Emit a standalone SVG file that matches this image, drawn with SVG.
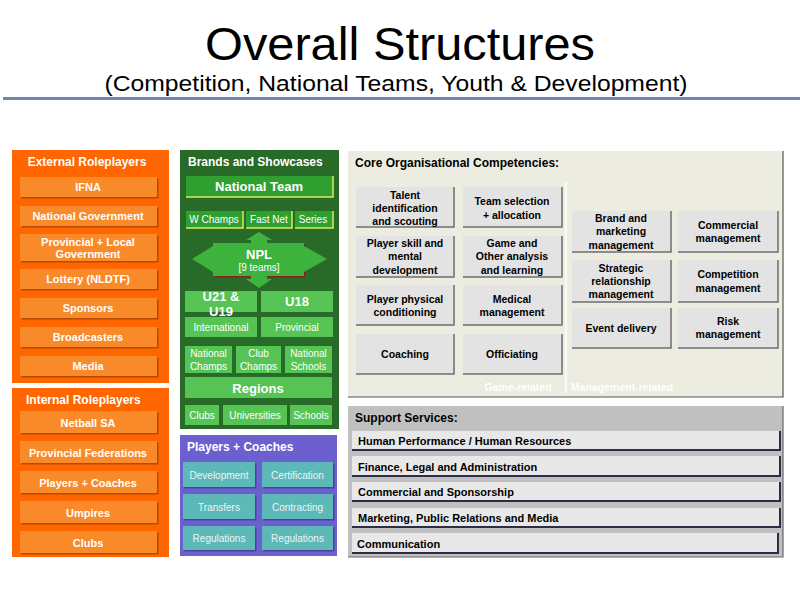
<svg xmlns="http://www.w3.org/2000/svg" width="800" height="600" viewBox="0 0 800 600">
<defs>
<style>
text{font-family:"Liberation Sans",Arial,sans-serif}
.t{fill:#fff;font-weight:bold;font-size:11px;text-anchor:middle}
.h{fill:#fff;font-weight:bold;font-size:12px}
.ob{fill:#F98A2C;filter:url(#sho)}
.gb{fill:#2FA02F}
.gl{fill:#55C455}
.yl{fill:none;stroke:#E2E85A;stroke-width:1.5}
.gt{fill:#fff;font-size:10px;text-anchor:middle}
.gtb{fill:#fff;font-size:13px;font-weight:bold;text-anchor:middle}
.tb{fill:#5DB8B8;filter:url(#shp)}
.tt{fill:#EAF6F6;font-size:10px;text-anchor:middle}
.cb{fill:#E3E3E3}
.ce{fill:none;stroke:#6E6E6E;stroke-width:1.5}
.ct{fill:#000;font-weight:bold;font-size:10.5px;text-anchor:middle}
.sb{fill:#E8E8E8}
.se{fill:none;stroke:#2C2C46;stroke-width:2}
.st{fill:#000;font-weight:bold;font-size:11px}
</style>
<filter id="sho" x="-10%" y="-20%" width="130%" height="150%"><feDropShadow dx="1.5" dy="1.5" stdDeviation="0.4" flood-color="#B84A00"/></filter>
<filter id="shp" x="-10%" y="-20%" width="130%" height="150%"><feDropShadow dx="1.5" dy="1.5" stdDeviation="0.4" flood-color="#4A3FA0"/></filter>
</defs>
<rect width="800" height="600" fill="#fff"/>

<g id="title">
<text x="400" y="60" font-size="46" text-anchor="middle" textLength="390" lengthAdjust="spacingAndGlyphs" fill="#000">Overall Structures</text>
<text x="396" y="91" font-size="22.5" text-anchor="middle" textLength="583" lengthAdjust="spacingAndGlyphs" fill="#000">(Competition, National Teams, Youth &amp; Development)</text>
<line x1="3" y1="98.5" x2="800" y2="98.5" stroke="#6A88B0" stroke-width="3"/>
</g>

<g id="external">
<rect x="12" y="150" width="157" height="233" fill="#FF6600"/>
<text class="h" x="87" y="166" text-anchor="middle" font-size="11.5">External Roleplayers</text>
<rect class="ob" x="20" y="177" width="137" height="20"/><text class="t" x="88" y="191">IFNA</text>
<rect class="ob" x="20" y="206" width="137" height="20"/><text class="t" x="88" y="220">National Government</text>
<rect class="ob" x="20" y="234" width="137" height="27"/><text class="t" x="88" y="245.5">Provincial + Local</text><text class="t" x="88" y="258">Government</text>
<rect class="ob" x="20" y="269" width="137" height="20"/><text class="t" x="88" y="283">Lottery (NLDTF)</text>
<rect class="ob" x="20" y="298" width="137" height="20"/><text class="t" x="88" y="312">Sponsors</text>
<rect class="ob" x="20" y="327" width="137" height="20"/><text class="t" x="88" y="341">Broadcasters</text>
<rect class="ob" x="20" y="356" width="137" height="20"/><text class="t" x="88" y="370">Media</text>
</g>

<g id="internal">
<rect x="12" y="388" width="157" height="169" fill="#FF6600"/>
<text class="h" x="26" y="404" font-size="11.5">Internal Roleplayers</text>
<rect class="ob" x="20" y="411" width="137" height="22"/><text class="t" x="88" y="426.5">Netball SA</text>
<rect class="ob" x="20" y="441" width="137" height="22"/><text class="t" x="88" y="456.5">Provincial Federations</text>
<rect class="ob" x="20" y="471" width="137" height="22"/><text class="t" x="88" y="486.5">Players + Coaches</text>
<rect class="ob" x="20" y="501" width="137" height="22"/><text class="t" x="88" y="516.5">Umpires</text>
<rect class="ob" x="20" y="531" width="137" height="22"/><text class="t" x="88" y="546.5">Clubs</text>
</g>

<g id="brands">
<rect x="180" y="150" width="159" height="279" fill="#286A28"/>
<text class="h" x="188" y="166">Brands and Showcases</text>
<rect class="gb" x="186" y="176" width="147" height="21"/><polyline class="yl" points="186,197 333,197 333,176"/>
<text class="gtb" x="259" y="191" font-size="12">National Team</text>
<rect class="gb" x="186" y="211" width="57" height="17"/><polyline class="yl" points="186,228 243,228 243,211"/>
<text class="gt" x="214" y="222.5" font-size="9.5">W Champs</text>
<rect class="gb" x="246" y="211" width="46" height="17"/><polyline class="yl" points="246,228 292,228 292,211"/>
<text class="gt" x="269" y="222.5" font-size="9.5">Fast Net</text>
<rect class="gb" x="295" y="211" width="38" height="17"/><polyline class="yl" points="295,228 333,228 333,211"/>
<text class="gt" x="313" y="222.5" font-size="9.5">Series</text>
<g id="npl">
<rect x="214.5" y="244.5" width="91" height="33" fill="#8B2020"/>
<polygon fill="#3DB33D" points="259,232 272,240 267,240 267,243 304,243 304,246 327,259 304,272 304,276 267,276 267,279 272,279 259,288 246,279 251,279 251,276 213,276 213,272 192,259 213,246 213,243 251,243 251,240 246,240"/>
<text class="gtb" x="259" y="259" font-size="12">NPL</text>
<text class="gt" x="259" y="271" font-size="9.5">[9 teams]</text>
</g>
<rect class="gl" x="185" y="291" width="72" height="21"/><text class="gtb" x="221" y="300.5">U21 &amp;</text><text class="gtb" x="221" y="315.5">U19</text>
<rect class="gl" x="261" y="291" width="72" height="21"/><text class="gtb" x="297" y="305.5">U18</text>
<rect class="gl" x="185" y="317" width="72" height="20"/><text class="gt" x="221" y="330.5">International</text>
<rect class="gl" x="261" y="317" width="72" height="20"/><text class="gt" x="297" y="330.5">Provincial</text>
<rect class="gl" x="185" y="346" width="47" height="27"/><text class="gt" x="208.5" y="356.5">National</text><text class="gt" x="208.5" y="369.5">Champs</text>
<rect class="gl" x="236" y="346" width="45" height="27"/><text class="gt" x="258.5" y="356.5">Club</text><text class="gt" x="258.5" y="369.5">Champs</text>
<rect class="gl" x="285" y="346" width="47" height="27"/><text class="gt" x="308.5" y="356.5">National</text><text class="gt" x="308.5" y="369.5">Schools</text>
<rect class="gl" x="185" y="377" width="147" height="21"/><text class="gtb" x="258" y="392.5" font-size="12.5">Regions</text>
<rect class="gl" x="185" y="405" width="34" height="20"/><text class="gt" x="202" y="418.5">Clubs</text>
<rect class="gl" x="223" y="405" width="64" height="20"/><text class="gt" x="255" y="418.5">Universities</text>
<rect class="gl" x="290" y="405" width="42" height="20"/><text class="gt" x="311" y="418.5">Schools</text>
</g>

<g id="players">
<rect x="180" y="435" width="157" height="121" fill="#6C60D0"/>
<text class="h" x="187" y="451">Players + Coaches</text>
<rect class="tb" x="183" y="462" width="72" height="25"/><text class="tt" x="219" y="479">Development</text>
<rect class="tb" x="262" y="462" width="71" height="25"/><text class="tt" x="297.5" y="479">Certification</text>
<rect class="tb" x="183" y="494" width="72" height="25"/><text class="tt" x="219" y="510.5">Transfers</text>
<rect class="tb" x="262" y="494" width="71" height="25"/><text class="tt" x="297.5" y="510.5">Contracting</text>
<rect class="tb" x="183" y="526" width="72" height="24"/><text class="tt" x="219" y="542">Regulations</text>
<rect class="tb" x="262" y="526" width="71" height="24"/><text class="tt" x="297.5" y="542">Regulations</text>
</g>

<g id="core">
<rect x="348" y="151" width="435" height="246" fill="#EDECE1"/>
<polyline points="348,397 783,397 783,151" fill="none" stroke="#555" stroke-width="1.2"/>
<text x="355" y="166.5" font-size="12" font-weight="bold" fill="#000">Core Organisational Competencies:</text>
<line x1="566" y1="182" x2="566" y2="393" stroke="#fff" stroke-width="1.5"/>
<rect class="cb" x="356" y="187" width="98" height="40"/><polyline class="ce" points="356,227 454,227 454,187"/>
<text class="ct" x="405" y="198.5">Talent</text><text class="ct" x="405" y="211.5">identification</text><text class="ct" x="405" y="224.5">and scouting</text>
<rect class="cb" x="463" y="187" width="99" height="40"/><polyline class="ce" points="463,227 562,227 562,187"/>
<text class="ct" x="512" y="204.5">Team selection</text><text class="ct" x="512" y="218.5">+ allocation</text>
<rect class="cb" x="356" y="236" width="98" height="41"/><polyline class="ce" points="356,277 454,277 454,236"/>
<text class="ct" x="405" y="246.5">Player skill and</text><text class="ct" x="405" y="260">mental</text><text class="ct" x="405" y="273.5">development</text>
<rect class="cb" x="463" y="236" width="99" height="41"/><polyline class="ce" points="463,277 562,277 562,236"/>
<text class="ct" x="512" y="246.5">Game and</text><text class="ct" x="512" y="260">Other analysis</text><text class="ct" x="512" y="273.5">and learning</text>
<rect class="cb" x="356" y="285" width="98" height="40"/><polyline class="ce" points="356,325 454,325 454,285"/>
<text class="ct" x="405" y="302.5">Player physical</text><text class="ct" x="405" y="315.5">conditioning</text>
<rect class="cb" x="463" y="285" width="99" height="40"/><polyline class="ce" points="463,325 562,325 562,285"/>
<text class="ct" x="512" y="302.5">Medical</text><text class="ct" x="512" y="315.5">management</text>
<rect class="cb" x="356" y="334" width="98" height="40"/><polyline class="ce" points="356,374 454,374 454,334"/>
<text class="ct" x="405" y="357.5">Coaching</text>
<rect class="cb" x="463" y="334" width="99" height="40"/><polyline class="ce" points="463,374 562,374 562,334"/>
<text class="ct" x="512" y="357.5">Officiating</text>
<rect class="cb" x="572" y="211" width="99" height="41"/><polyline class="ce" points="572,252 671,252 671,211"/>
<text class="ct" x="621" y="221.5">Brand and</text><text class="ct" x="621" y="235">marketing</text><text class="ct" x="621" y="248.5">management</text>
<rect class="cb" x="678" y="211" width="100" height="41"/><polyline class="ce" points="678,252 778,252 778,211"/>
<text class="ct" x="728" y="228.5">Commercial</text><text class="ct" x="728" y="241.5">management</text>
<rect class="cb" x="572" y="260" width="99" height="42"/><polyline class="ce" points="572,302 671,302 671,260"/>
<text class="ct" x="621" y="271.5">Strategic</text><text class="ct" x="621" y="284.5">relationship</text><text class="ct" x="621" y="297.5">management</text>
<rect class="cb" x="678" y="260" width="100" height="42"/><polyline class="ce" points="678,302 778,302 778,260"/>
<text class="ct" x="728" y="277.5">Competition</text><text class="ct" x="728" y="291.5">management</text>
<rect class="cb" x="572" y="308" width="99" height="40"/><polyline class="ce" points="572,348 671,348 671,308"/>
<text class="ct" x="621" y="331.5">Event delivery</text>
<rect class="cb" x="678" y="308" width="100" height="40"/><polyline class="ce" points="678,348 778,348 778,308"/>
<text class="ct" x="728" y="324.5">Risk</text><text class="ct" x="728" y="337.5">management</text>
<text x="518" y="391" font-size="10.5" font-weight="bold" fill="#fff" text-anchor="middle">Game-related</text>
<text x="571" y="391" font-size="10.5" font-weight="bold" fill="#fff">Management-related</text>
</g>

<g id="support">
<rect x="348" y="406" width="435" height="151" fill="#C0C0C0"/>
<polyline points="348,557 783,557 783,406" fill="none" stroke="#666" stroke-width="1.2"/>
<text x="355" y="421.5" font-size="12" font-weight="bold" fill="#000">Support Services:</text>
<rect class="sb" x="352" y="431" width="428" height="19"/><polyline class="se" points="352,450 780,450 780,431"/>
<text class="st" x="358" y="444.5">Human Performance / Human Resources</text>
<rect class="sb" x="352" y="456" width="428" height="20"/><polyline class="se" points="352,476 780,476 780,456"/>
<text class="st" x="358" y="470.5">Finance, Legal and Administration</text>
<rect class="sb" x="352" y="482" width="428" height="19"/><polyline class="se" points="352,501 780,501 780,482"/>
<text class="st" x="358" y="495.5">Commercial and Sponsorship</text>
<rect class="sb" x="352" y="508" width="428" height="19"/><polyline class="se" points="352,527 780,527 780,508"/>
<text class="st" x="358" y="521.5">Marketing, Public Relations and Media</text>
<rect class="sb" x="352" y="533" width="426" height="20"/><polyline class="se" points="352,553 778,553 778,533"/>
<text class="st" x="357" y="547.5">Communication</text>
</g>
<g id="connectors"></g>
</svg>
